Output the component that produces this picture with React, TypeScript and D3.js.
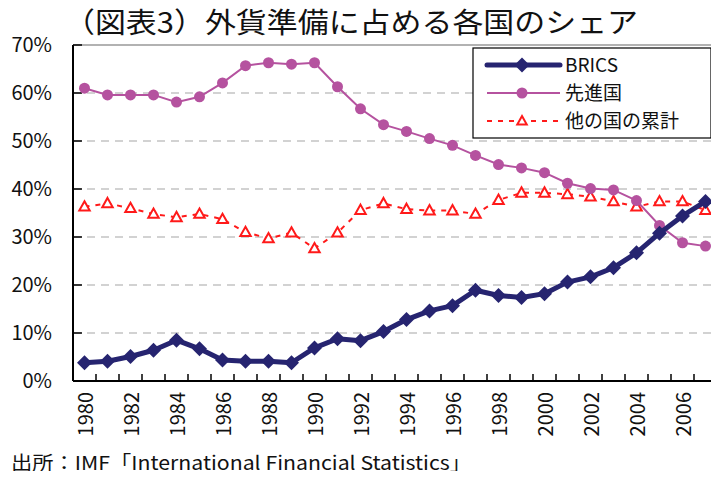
import React from 'react';
import * as d3 from 'd3';

const years = d3.range(1980, 2008).map(String);
const tickYears = years.filter((y) => +y % 2 === 0);
const yTicks = [0, 10, 20, 30, 40, 50, 60, 70];

const brics = [3.8, 4.1, 5.1, 6.4, 8.5, 6.7, 4.4, 4.1, 4.1, 3.8, 6.9, 8.8, 8.4, 10.3, 12.8, 14.6, 15.7, 18.9, 17.8, 17.4, 18.2, 20.6, 21.7, 23.6, 26.7, 30.8, 34.4, 37.4];
const developed = [61.0, 59.6, 59.6, 59.6, 58.1, 59.2, 62.1, 65.7, 66.3, 66.0, 66.3, 61.3, 56.7, 53.4, 52.0, 50.5, 49.1, 47.0, 45.1, 44.4, 43.4, 41.2, 40.1, 39.8, 37.6, 32.4, 28.8, 28.1];
const others = [36.3, 37.0, 36.0, 34.8, 34.1, 34.8, 33.7, 31.0, 29.7, 30.9, 27.6, 30.9, 35.6, 37.0, 35.8, 35.5, 35.5, 34.8, 37.7, 39.2, 39.2, 38.9, 38.4, 37.4, 36.3, 37.4, 37.4, 35.6];

const W = 719;
const H = 479;
const m = { left: 73, right: 717, top: 45, bottom: 381 };
const font = '"Noto Sans CJK JP", "Noto Sans", sans-serif';

const navy = '#262470';
const pink = '#b5529f';
const red = '#ff1a1a';

export default function App() {
  const x = d3.scaleBand<string>().domain(years).range([m.left, m.right]);
  const y = d3.scaleLinear().domain([0, 70]).range([m.bottom, m.top]);
  const cx = (yr: string) => (x(yr) as number) + x.bandwidth() / 2;

  const line = d3
    .line<number>()
    .x((_, i) => cx(years[i]))
    .y((d) => y(d));

  const diamond = (px: number, py: number, r: number) =>
    `M${px},${py - r}L${px + r},${py}L${px},${py + r}L${px - r},${py}Z`;
  const triangle = (px: number, py: number, r: number) =>
    `M${px},${py - r}L${px + r * 0.95},${py + r * 0.7}L${px - r * 0.95},${py + r * 0.7}Z`;

  const boundaries = d3.range(years.length + 1).map((i) => m.left + i * x.bandwidth());

  return (
    <div style={{ margin: -8 }}>
      <svg width={W} height={H} style={{ display: 'block', background: '#fff' }} fontFamily={font}>
        <text x={64} y={33} fontSize={28} fill="#111" textLength={574} lengthAdjust="spacingAndGlyphs">（図表3）外貨準備に占める各国のシェア</text>

        {/* grid */}
        {yTicks.slice(1, -1).map((t) => (
          <line key={t} x1={m.left} x2={m.right} y1={y(t)} y2={y(t)} stroke="#c4c4c4" strokeWidth={1.5} strokeDasharray="8,6" />
        ))}
        <line x1={m.left} x2={m.right - 1} y1={m.top} y2={m.top} stroke="#999" strokeWidth={1.5} />
        <line x1={m.right - 1} x2={m.right - 1} y1={m.top} y2={m.bottom} stroke="#999" strokeWidth={1.5} />

        {/* y axis */}
        <line x1={m.left} x2={m.left} y1={m.top} y2={m.bottom} stroke="#000" strokeWidth={2} />
        {yTicks.map((t) => (
          <g key={t}>
            <line x1={m.left} x2={m.left + 9} y1={y(t)} y2={y(t)} stroke="#000" strokeWidth={1.5} />
            <text x={52} y={y(t)} dy="0.35em" textAnchor="end" fontSize={20} fill="#111">{t}%</text>
          </g>
        ))}

        {/* x axis */}
        <line x1={m.left} x2={m.right} y1={m.bottom} y2={m.bottom} stroke="#000" strokeWidth={2} />
        {boundaries.map((bx, i) => (
          <line key={i} x1={bx} x2={bx} y1={m.bottom} y2={m.bottom - 7} stroke="#000" strokeWidth={1.5} />
        ))}
        {tickYears.map((yr) => (
          <text key={yr} transform={`translate(${cx(yr) + 1},392) rotate(-90)`} textAnchor="end" dy="0.35em" fontSize={20} fill="#111">{yr}</text>
        ))}

        {/* others */}
        <path d={line(others) || ''} fill="none" stroke={red} strokeWidth={2} strokeDasharray="5,6" />
        {others.map((v, i) => (
          <path key={i} d={triangle(cx(years[i]), y(v), 5.5)} fill="#fff" stroke={red} strokeWidth={2} />
        ))}

        {/* developed */}
        <path d={line(developed) || ''} fill="none" stroke={pink} strokeWidth={2} />
        {developed.map((v, i) => (
          <circle key={i} cx={cx(years[i])} cy={y(v)} r={5.5} fill={pink} />
        ))}

        {/* BRICS */}
        <path d={line(brics) || ''} fill="none" stroke={navy} strokeWidth={5} strokeLinejoin="round" />
        {brics.map((v, i) => (
          <path key={i} d={diamond(cx(years[i]), y(v), 7.5)} fill={navy} />
        ))}

        {/* legend */}
        <rect x={473} y={48} width={238} height={90} fill="#fff" stroke="#000" strokeWidth={1.2} />
        <line x1={487} x2={560} y1={65} y2={65} stroke={navy} strokeWidth={5} strokeLinecap="round" />
        <path d={diamond(522, 65, 7.5)} fill={navy} />
        <text x={565} y={65} dy="0.36em" fontSize={19} fill="#111">BRICS</text>
        <line x1={487} x2={560} y1={93} y2={93} stroke={pink} strokeWidth={2} />
        <circle cx={522} cy={93} r={5.5} fill={pink} />
        <text x={565} y={93} dy="0.36em" fontSize={19} fill="#111">先進国</text>
        <line x1={487} x2={560} y1={121} y2={121} stroke={red} strokeWidth={2} strokeDasharray="5,6" />
        <path d={triangle(522, 121, 5)} fill="#fff" stroke={red} strokeWidth={2} />
        <text x={565} y={121} dy="0.36em" fontSize={19} fill="#111">他の国の累計</text>

        <text x={11} y={470} fontSize={19} fill="#111" textLength={460} lengthAdjust="spacingAndGlyphs">出所：IMF「International Financial Statistics」</text>
      </svg>
    </div>
  );
}
